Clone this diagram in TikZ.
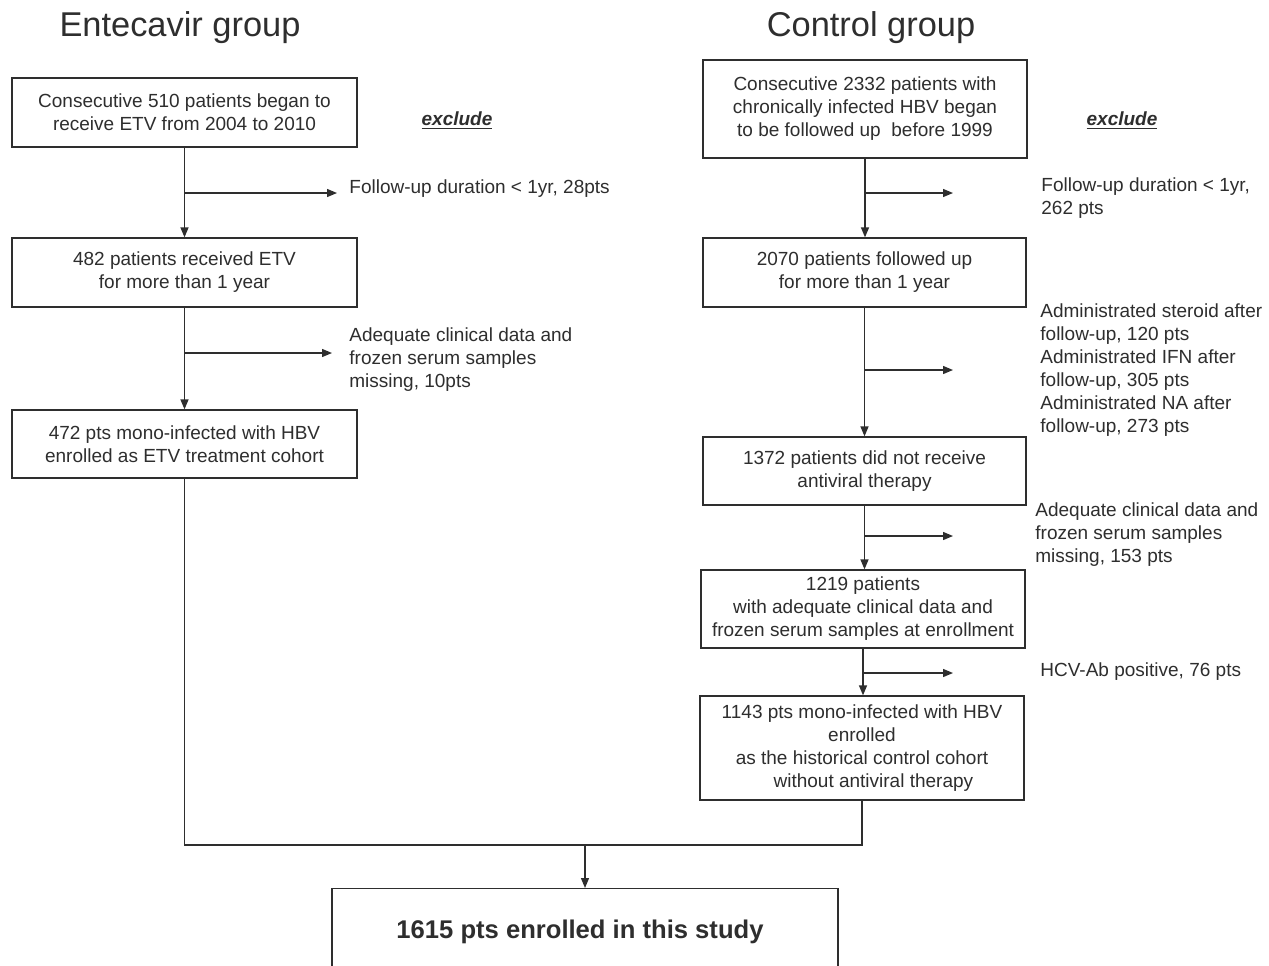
\documentclass[tikz,border=0pt]{standalone}
\usepackage{fontspec}
\setmainfont{Liberation Sans}
\usetikzlibrary{arrows.meta}
\definecolor{ink}{HTML}{2E2E2E}
\begin{document}
\begin{tikzpicture}[x=0.5pt,y=-0.5pt,
  box/.style={draw=ink,line width=0.65pt,inner sep=0pt,align=center,font=\fontsize{9.5}{11.5}\selectfont,text=ink},
  lbl/.style={inner sep=0pt,anchor=west,align=left,font=\fontsize{9.5}{11.5}\selectfont,text=ink},
  ttl/.style={inner sep=0pt,font=\fontsize{17.2}{20}\selectfont,text=ink},
  excl/.style={inner sep=0pt,font=\fontsize{9.5}{11}\selectfont\bfseries\itshape,text=ink},
  flow/.style={draw=ink,line width=0.65pt,-{Triangle[length=5pt,width=4pt]}},
  link/.style={draw=ink,line width=0.65pt}]
\clip (0,0) rectangle (1269,965);
\fill[white] (0,0) rectangle (1269,965);
% titles
\node[ttl] (t1) at (180,28) {Entecavir group};
\node[ttl] (t2) at (871,28) {Control group};
\node[excl] (x1) at (457,121) {\underline{exclude}};
\node[excl] (x2) at (1122,121) {\underline{exclude}};
% left boxes
\node[box,minimum width=172.5pt,minimum height=34.5pt] (L1) at (184.5,112.5) {Consecutive 510 patients began to\\ receive ETV from 2004 to 2010};
\node[box,minimum width=172.5pt,minimum height=34.5pt] (L2) at (184.5,272.5) {482 patients received ETV\\for more than 1 year};
\node[box,minimum width=172.5pt,minimum height=34pt] (L3) at (184.5,444) {472 pts mono-infected with HBV\\enrolled as ETV treatment cohort};
% right boxes
\node[box,minimum width=162pt,minimum height=49pt] (R1) at (865,109) {Consecutive 2332 patients with\\chronically infected HBV began\\to be followed up\ \ before 1999};
\node[box,minimum width=161.5pt,minimum height=34.5pt] (R2) at (864.5,272.5) {2070 patients followed up\\for more than 1 year};
\node[box,minimum width=161.5pt,minimum height=34pt] (R3) at (864.5,471) {1372 patients did not receive\\antiviral therapy};
\node[box,minimum width=162pt,minimum height=39pt] (R4) at (863,609) {1219 patients\\with adequate clinical data and\\frozen serum samples at enrollment};
\node[box,minimum width=162pt,minimum height=52pt] (R5) at (862,748) {1143 pts mono-infected with HBV\\enrolled\\as the historical control cohort\\\hspace*{1.2em}without antiviral therapy};
% bottom box
\node[box,minimum width=253pt,minimum height=61pt,anchor=north] (B) at (585,888) {};
\node[inner sep=0pt,font=\fontsize{12.8}{14}\selectfont\bfseries,text=ink] (Bt) at (580,932) {1615 pts enrolled in this study};
% exclusion labels
\node[lbl] (e1) at (349,189) {Follow-up duration < 1yr, 28pts};
\node[lbl] (e2) at (349,360) {Adequate clinical data and\\frozen serum samples\\missing, 10pts};
\node[lbl] (e3) at (1041,198) {Follow-up duration < 1yr,\\262 pts};
\node[lbl] (e4) at (1040,370) {Administrated steroid after\\follow-up, 120 pts\\Administrated IFN after\\follow-up, 305 pts\\Administrated NA after\\follow-up, 273 pts};
\node[lbl] (e5) at (1035,535) {Adequate clinical data and\\frozen serum samples\\missing, 153 pts};
\node[lbl] (e6) at (1040,672) {HCV-Ab positive, 76 pts};
% branch points
\coordinate (b1) at (184.5,193);
\coordinate (b2) at (184.5,353);
\coordinate (b3) at (865,193);
\coordinate (b4) at (865,370);
\coordinate (b5) at (864.5,536);
\coordinate (b6) at (863,673);
\coordinate (a1) at (337,193);
\coordinate (a2) at (332,353);
\coordinate (a3) at (953,193);
\coordinate (a4) at (953,370);
\coordinate (a5) at (953,536);
\coordinate (a6) at (953,673);
% vertical flows
\draw[flow] (L1.south) -- (L2.north);
\draw[flow] (L2.south) -- (L3.north);
\draw[flow] (R1.south) -- (R1.south |- R2.north);
\draw[flow] (R2.south) -- (R2.south |- R3.north);
\draw[flow] (R3.south) -- (R3.south |- R4.north);
\draw[flow] (R4.south) -- (R4.south |- R5.north);
% branches
\draw[flow] (b1) -- (a1);
\draw[flow] (b2) -- (a2);
\draw[flow] (b3) -- (a3);
\draw[flow] (b4) -- (a4);
\draw[flow] (b5) -- (a5);
\draw[flow] (b6) -- (a6);
% join
\coordinate (jl) at (184.5,845);
\coordinate (jr) at (862,845);
\coordinate (jm) at (585,845);
\draw[link] (L3.south) -- (jl) -- (jr) -- (R5.south);
\draw[flow] (jm) -- (B.north);
\end{tikzpicture}
\end{document}
